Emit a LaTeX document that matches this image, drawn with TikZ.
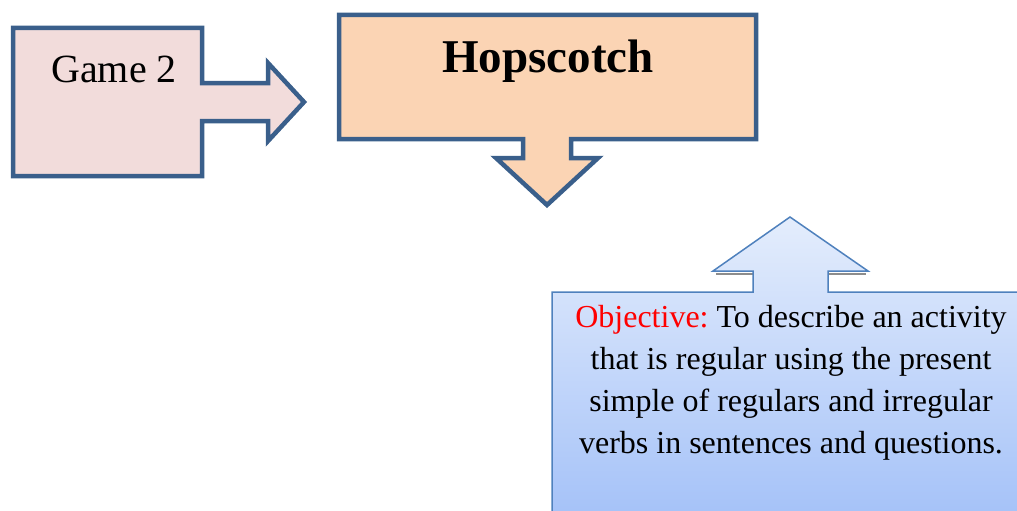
\documentclass[tikz,border=0pt]{standalone}
\usepackage{fontspec}
\setmainfont{Liberation Serif}
\frenchspacing
\definecolor{darkline}{HTML}{3A5F8B}
\definecolor{pinkfill}{HTML}{F2DCDB}
\definecolor{peachfill}{HTML}{FBD4B4}
\definecolor{objline}{HTML}{4F81BD}
\definecolor{objtop}{HTML}{E4EDFC}
\definecolor{objbot}{HTML}{A2C0F8}
\definecolor{objred}{HTML}{FF0000}
\tikzset{
  thickcallout/.style={draw=darkline, line width=4.5pt, line join=miter},
  shadowline/.style={draw=black!45, line width=2pt},
}
\begin{document}
\begin{tikzpicture}[x=1pt,y=-1pt]
\useasboundingbox (0,0) rectangle (1017,511);
% Game 2 callout (right arrow)
\path[thickcallout, fill=pinkfill] (13,28) -- (202,28) -- (202,83) -- (268,83) -- (268,63)
  -- (304,102) -- (268,141) -- (268,121) -- (202,121) -- (202,176) -- (13,176) -- cycle;
% Hopscotch callout (down arrow)
\path[thickcallout, fill=peachfill] (339,15) -- (756,15) -- (756,139) -- (571,139) -- (571,158)
  -- (598,158) -- (547,205) -- (496,158) -- (523,158) -- (523,139) -- (339,139) -- cycle;
% Objective callout (up arrow)
\begin{scope}
\clip (0,0) rectangle (1017,511);
\draw[shadowline] (716,273.5) -- (753,273.5);
\draw[shadowline] (828,273.5) -- (866,273.5);
\shade[top color=objtop, bottom color=objbot, draw=objline, line width=1.5pt]
  (552,292) -- (753,292) -- (753,271) -- (713,271) -- (790,217) -- (868,271) -- (828,271)
  -- (828,292) -- (1030,292) -- (1030,530) -- (552,530) -- cycle;
\end{scope}
% Texts
\node[anchor=base, inner sep=0, font=\fontsize{40}{48}\selectfont] (game) at (114,82) {Game 2};
\node[anchor=base, inner sep=0, font=\fontsize{47}{56}\selectfont\bfseries] (hop) at (548,73) {Hopscotch};
\node[anchor=base, inner sep=0, align=center, font=\fontsize{32}{42}\selectfont] (obj) at (791,453)
  {\textcolor{objred}{Objective:} To describe an activity\\that is regular using the present\\simple of regulars and irregular\\verbs in sentences and questions.};
\end{tikzpicture}
\end{document}
